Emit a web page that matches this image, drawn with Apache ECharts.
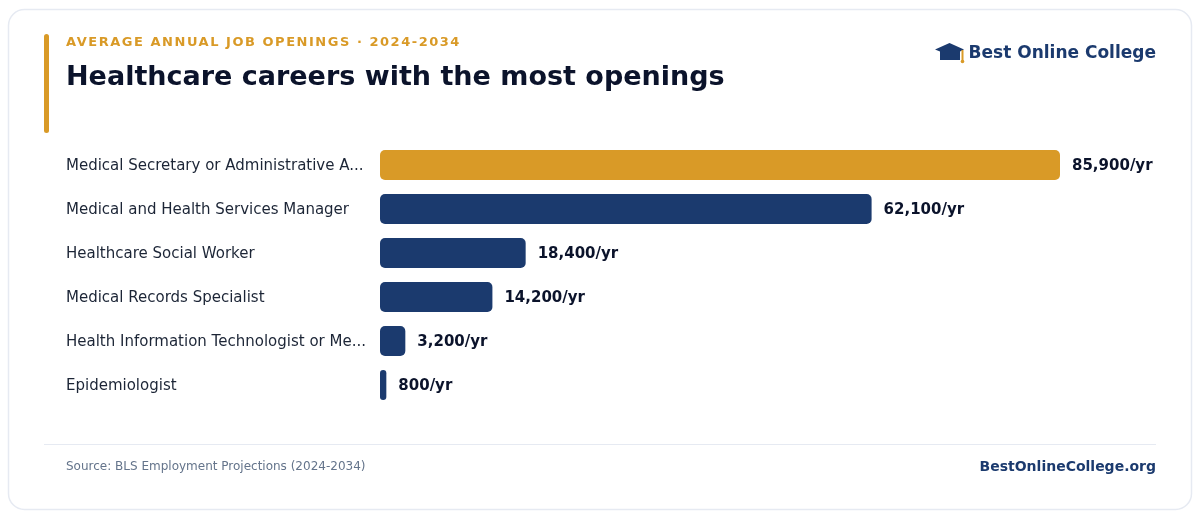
<!DOCTYPE html>
<html>
<head>
<meta charset="utf-8">
<style>
  html, body { margin: 0; padding: 0; background: #ffffff; }
  #chart { width: 1200px; height: 518px; }
  #kicker {
    position: absolute; left: 66px; top: 34px; line-height: 16px;
    font: bold 13px "DejaVu Sans", sans-serif; letter-spacing: 1.53px;
    color: #d99a27; white-space: nowrap;
  }
</style>
<script src="https://cdn.jsdelivr.net/npm/echarts@6/dist/echarts.min.js"></script>
</head>
<body>
<div id="chart"></div>
<div id="kicker">AVERAGE ANNUAL JOB OPENINGS · 2024-2034</div>
<script>
const categories = [
  'Medical Secretary or Administrative A...',
  'Medical and Health Services Manager',
  'Healthcare Social Worker',
  'Medical Records Specialist',
  'Health Information Technologist or Me...',
  'Epidemiologist'
];
const openings = [85900, 62100, 18400, 14200, 3200, 800];

const GOLD = '#d99a27';
const NAVY = '#1b3a6e';
const INK = '#0b132b';
const FONT = '"DejaVu Sans", sans-serif';

const chart = echarts.init(document.getElementById('chart'), null, { renderer: 'canvas' });

chart.setOption({
  animation: false,
  backgroundColor: '#ffffff',
  grid: { left: 380, width: 680, top: 143, height: 264, containLabel: false },
  xAxis: { type: 'value', min: 0, max: 85900, show: false },
  yAxis: {
    type: 'category',
    inverse: true,
    data: categories,
    axisLine: { show: false },
    axisTick: { show: false },
    axisLabel: {
      align: 'left',
      margin: 314,
      fontFamily: FONT,
      fontSize: 15,
      formatter: v => '{name|' + v + '}',
      rich: {
        name: { color: '#1c2536', fontFamily: FONT, fontSize: 15, padding: [2, 0, 0, 0] }
      }
    }
  },
  series: [{
    type: 'bar',
    data: openings.map((v, i) => ({ value: v, itemStyle: { color: i === 0 ? GOLD : NAVY } })),
    barWidth: 30,
    itemStyle: { borderRadius: 5 },
    label: {
      show: true,
      position: 'right',
      distance: 12,
      offset: [0, 1],
      color: INK,
      fontFamily: FONT,
      fontSize: 15,
      fontWeight: 'bold',
      formatter: p => p.value.toLocaleString('en-US') + '/yr'
    }
  }],
  graphic: [
    // card behind everything
    { type: 'rect', z: -10, silent: true,
      shape: { x: 8.5, y: 9.5, width: 1183, height: 500, r: 16 },
      style: { fill: '#ffffff', stroke: '#e6eaf2', lineWidth: 1.5 } },
    // accent bar beside the heading
    { type: 'rect', shape: { x: 44, y: 34, width: 5, height: 99, r: 2.5 }, style: { fill: GOLD } },
    { type: 'text', style: { x: 66, y: 78, text: 'Healthcare careers with the most openings',
      fill: INK, font: 'bold 27px ' + FONT, textVerticalAlign: 'middle' } },
    // graduation cap: mortarboard over the crown, tassel on the right
    { type: 'polygon', shape: { points: [[935, 49.5], [949.5, 43], [964, 49.5], [960, 51.5], [960, 60], [940, 60], [940, 51.5]] }, style: { fill: NAVY } },
    { type: 'rect', shape: { x: 961.5, y: 50, width: 2, height: 12 }, style: { fill: GOLD } },
    { type: 'circle', shape: { cx: 962.5, cy: 61.5, r: 1.8 }, style: { fill: GOLD } },
    { type: 'text', style: { x: 1156, y: 54, text: 'Best Online College', fill: NAVY,
      font: 'bold 17px ' + FONT, textAlign: 'right', textVerticalAlign: 'middle' } },
    // footer
    { type: 'rect', shape: { x: 44, y: 444, width: 1112, height: 1 }, style: { fill: '#e6eaf2' } },
    { type: 'text', style: { x: 66, y: 467, text: 'Source: BLS Employment Projections (2024-2034)', fill: '#64748b',
      font: '12px ' + FONT, textVerticalAlign: 'middle' } },
    { type: 'text', style: { x: 1156, y: 467, text: 'BestOnlineCollege.org', fill: NAVY,
      font: 'bold 14px ' + FONT, textAlign: 'right', textVerticalAlign: 'middle' } }
  ]
});
</script>
</body>
</html>
